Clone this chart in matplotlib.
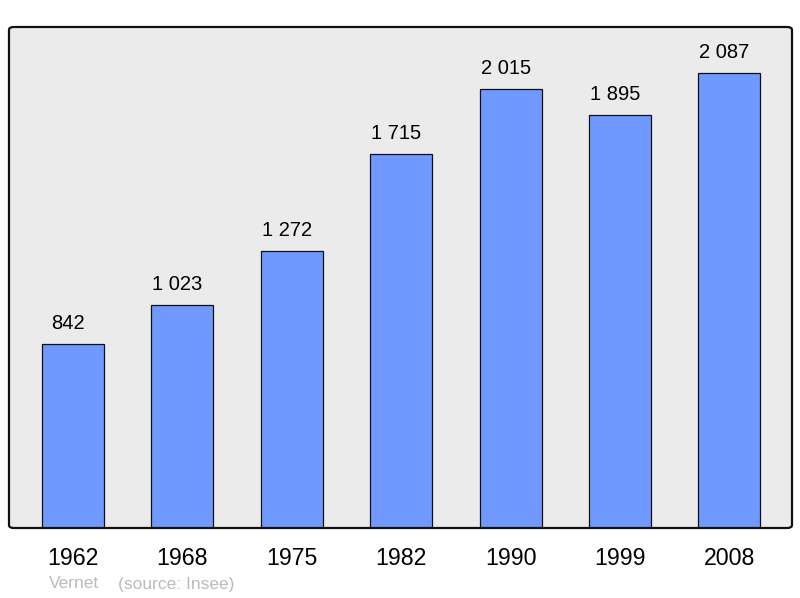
import matplotlib
matplotlib.use("Agg")
import matplotlib.pyplot as plt
from matplotlib.patches import FancyBboxPatch

years = ["1962", "1968", "1975", "1982", "1990", "1999", "2008"]
population = [842, 1023, 1272, 1715, 2015, 1895, 2087]
value_labels = ["842", "1 023", "1 272", "1 715", "2 015", "1 895", "2 087"]

plt.rcParams['font.family'] = ['Liberation Sans', 'DejaVu Sans']

fig = plt.figure(figsize=(8, 5.98), dpi=100)
ax = fig.add_axes([9/800, 70/598, 783/800, 501/598])
ax.set_facecolor('#ebebeb')

x = list(range(len(years)))
bars = ax.bar(x, population, width=0.567, color='#7099ff', edgecolor='#111111', linewidth=0.9)
for xi, v, lab in zip(x, population, value_labels):
    ax.annotate(lab, (xi, v), xytext=(-3.5, 10.8), textcoords='offset points',
                ha='center', va='baseline', fontsize=14.5, color='black')

ax.set_xlim(-0.585, 6.572)
ax.set_ylim(0, 2298)
ax.set_xticks(x)
ax.set_xticklabels(years, fontsize=16.7)
ax.tick_params(axis='x', length=0, pad=14)
ax.set_yticks([])
for s in ax.spines.values():
    s.set_visible(False)
frame = FancyBboxPatch((0, 0), 1, 1, boxstyle="round,pad=0,rounding_size=0.006",
                       transform=ax.transAxes, facecolor='none', edgecolor='#111111',
                       linewidth=1.6, clip_on=False, zorder=5)
ax.add_patch(frame)

fig.text(49/800, 1 - 584/598, "Vernet", fontsize=12.5, color='#bbbbbb', va='center', ha='left')
fig.text(118/800, 1 - 584/598, "(source: Insee)", fontsize=12.5, color='#bbbbbb', va='center', ha='left')

fig.savefig('out.png', dpi=100)
